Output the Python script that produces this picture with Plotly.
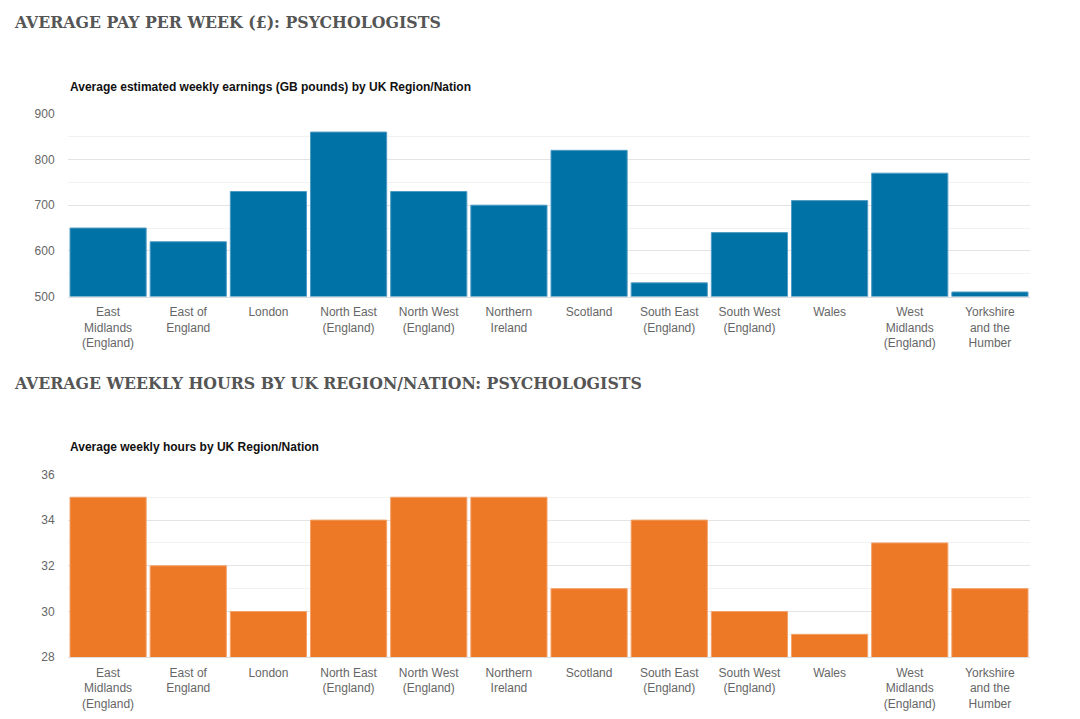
import plotly.graph_objects as go

regions = ["East<br>Midlands<br>(England)", "East of<br>England", "London", "North East<br>(England)",
           "North West<br>(England)", "Northern<br>Ireland", "Scotland", "South East<br>(England)",
           "South West<br>(England)", "Wales", "West<br>Midlands<br>(England)", "Yorkshire<br>and the<br>Humber"]
pay = [650, 620, 730, 860, 730, 700, 820, 530, 640, 710, 770, 510]
hours = [35, 32, 30, 34, 35, 35, 31, 34, 30, 29, 33, 31]

W, H = 1080, 719
def px(x): return x / W
def py(y):
    # compensate observed vertical scaling of the rendered page
    y_in = (y - 6.1) / 0.9816
    return 1 - y_in / H

fig = go.Figure()
fig.add_trace(go.Bar(x=regions, y=pay, xaxis="x", yaxis="y",
                     marker=dict(color="#0072A6", line=dict(color="#4f9cc4", width=1)),
                     hoverinfo="x+y"))
fig.add_trace(go.Bar(x=regions, y=hours, xaxis="x2", yaxis="y2",
                     marker=dict(color="#ED7826", line=dict(color="#f3a26a", width=1)),
                     hoverinfo="x+y"))

tickfont = dict(family="Liberation Sans, Arial", size=12, color="#666666")
xcommon = dict(tickfont=tickfont, showgrid=False, showline=True, linecolor="#dddddd", linewidth=1,
               ticks="outside", ticklen=4, tickcolor="rgba(0,0,0,0)", fixedrange=True)
ycommon = dict(tickfont=tickfont, showgrid=True, gridcolor="#e3e3e3", gridwidth=1, zeroline=False,
               ticks="outside", ticklen=10, tickcolor="rgba(0,0,0,0)", fixedrange=True)

fig.update_layout(
    width=W, height=H,
    margin=dict(l=0, r=0, t=0, b=0),
    paper_bgcolor="white", plot_bgcolor="white",
    showlegend=False, bargap=0.05,
    xaxis=dict(domain=[px(68), px(1030)], anchor="y", **xcommon),
    yaxis=dict(domain=[py(296), py(113)], anchor="x", range=[500, 900], dtick=100, tick0=500,
               minor=dict(dtick=50, showgrid=True, gridcolor="#f2f2f2"), **ycommon),
    xaxis2=dict(domain=[px(68), px(1030)], anchor="y2", **xcommon),
    yaxis2=dict(domain=[py(657), py(474)], anchor="x2", range=[28, 36], dtick=2, tick0=28,
                minor=dict(dtick=1, showgrid=True, gridcolor="#f2f2f2"), **ycommon),
)

title_font = dict(family="DejaVu Serif Condensed", size=17.5, color="#555555")
sub_font = dict(family="Liberation Sans, Arial", size=12, color="#111111")
anns = [
    dict(text="<b>AVERAGE PAY PER WEEK (£): PSYCHOLOGISTS</b>", x=px(12), y=py(21), font=title_font),
    dict(text="<b>Average estimated weekly earnings (GB pounds) by UK Region/Nation</b>", x=px(68), y=py(86), font=sub_font),
    dict(text="<b>AVERAGE WEEKLY HOURS BY UK REGION/NATION: PSYCHOLOGISTS</b>", x=px(12), y=py(383), font=title_font),
    dict(text="<b>Average weekly hours by UK Region/Nation</b>", x=px(68), y=py(447), font=sub_font),
]
for a in anns:
    fig.add_annotation(xref="paper", yref="paper", xanchor="left", yanchor="middle", showarrow=False, **a)

fig.write_html("out.html", config={"displayModeBar": False},
               post_script="document.body.style.margin='0';document.body.style.overflow='hidden';")
